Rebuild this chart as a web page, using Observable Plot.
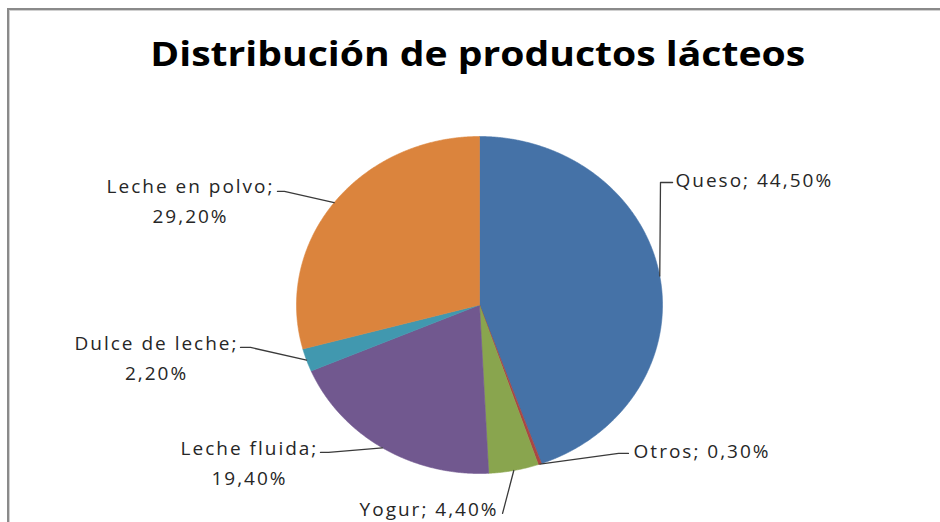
<!DOCTYPE html>
<html>
<head>
<meta charset="utf-8">
<script src="https://cdn.jsdelivr.net/npm/d3@7"></script>
<script src="https://cdn.jsdelivr.net/npm/@observablehq/plot@0.6"></script>
<style>
  html, body { margin: 0; padding: 0; background: #fff; overflow: hidden; width: 940px; height: 522px; }
  #frame { position: absolute; left: 7px; top: 8px; width: 1000px; height: 600px;
           border-top: 2px solid #8a8a8a; border-left: 2px solid #8a8a8a;
           box-shadow: inset 1px 1px 0 #d0d0d0; }
  #title { position: absolute; left: 0; top: 36px; width: 956px; text-align: center;
           font-family: "Open Sans", sans-serif; font-weight: 700; font-size: 34px; line-height: 34px; color: #000; }
  #title span { display: inline-block; transform: scaleX(1.15); transform-origin: center; }
  #chart { position: absolute; left: 0; top: 100px; }
</style>
</head>
<body>
<div id="frame"></div>
<div id="title"><span>Distribución de productos lácteos</span></div>
<div id="chart"></div>
<script>
// ---- data ----
const categories = ["Queso", "Otros", "Yogur", "Leche fluida", "Dulce de leche", "Leche en polvo"];
const values = [44.5, 0.3, 4.4, 19.4, 2.2, 29.2];
const colors = ["#4572A7", "#AA4643", "#89A54E", "#71588F", "#4198AF", "#DB843D"];

// ---- label layout (in pie-radius units; layout only) ----
const labelAnchor = ["start", "start", "end", "middle", "middle", "middle"];
const labelWrap = [false, false, false, true, true, true];
const labelPos = [[1.071, 0.757], [0.842, -0.852], [0.104, -1.198], [-1.257, -0.923], [-1.765, -0.300], [-1.579, 0.632]];
const leaderElbow = [[0.989, 0.727], [0.760, -0.881], null, [-0.825, -0.875], [-1.251, -0.252], [-1.066, 0.674]];
const leaderEnd = [[1.055, 0.727], [0.814, -0.881], [0.126, -1.237], [-0.869, -0.875], [-1.306, -0.252], [-1.104, 0.674]];

const data = categories.map((c, i) => ({cat: c, value: values[i]}));
const arcs = d3.pie().sort(null).value(d => d.value)(data);

// slice outlines on unit circle
const slicePts = [];
arcs.forEach(a => {
  const cat = a.data.cat;
  slicePts.push({cat, x: 0, y: 0});
  const n = Math.max(2, Math.ceil((a.endAngle - a.startAngle) / 0.005));
  for (let k = 0; k <= n; k++) {
    const t = a.startAngle + (a.endAngle - a.startAngle) * k / n;
    slicePts.push({cat, x: Math.sin(t), y: Math.cos(t)});
  }
  slicePts.push({cat, x: 0, y: 0});
});

const fmt = v => v.toFixed(2).replace(".", ",") + "%";
const labels = arcs.map((a, i) => {
  const sep = labelWrap[i] ? ";\n" : "; ";
  return {cat: a.data.cat, text: a.data.cat + sep + fmt(a.data.value), x: labelPos[i][0], y: labelPos[i][1], anchor: labelAnchor[i]};
});

const leaders = [];
arcs.forEach((a, i) => {
  const m = (a.startAngle + a.endAngle) / 2;
  leaders.push({cat: a.data.cat, x: Math.sin(m), y: Math.cos(m)});
  if (leaderElbow[i]) leaders.push({cat: a.data.cat, x: leaderElbow[i][0], y: leaderElbow[i][1]});
  leaders.push({cat: a.data.cat, x: leaderEnd[i][0], y: leaderEnd[i][1]});
});

const textOpts = {x: "x", y: "y", text: "text", fontSize: 19, lineHeight: 1.58, lineAnchor: "middle", fill: "#262626"};

const plot = Plot.plot({
  width: 940,
  height: 422,
  marginLeft: 296,
  marginRight: 278,
  marginTop: 36,
  marginBottom: 49,
  x: {domain: [-1, 1], axis: null},
  y: {domain: [-1, 1], axis: null},
  color: {domain: categories, range: colors},
  style: {fontFamily: "'Open Sans', sans-serif", letterSpacing: "2px", overflow: "visible", background: "transparent"},
  marks: [
    Plot.line(slicePts, {x: "x", y: "y", z: "cat", fill: "cat", stroke: "cat", strokeWidth: 0.6, curve: "linear"}),
    Plot.line(leaders, {x: "x", y: "y", z: "cat", stroke: "#3a3a3a", strokeWidth: 1.3, curve: "linear"}),
    Plot.text(labels.filter(d => d.anchor === "start"), {...textOpts, textAnchor: "start"}),
    Plot.text(labels.filter(d => d.anchor === "end"), {...textOpts, textAnchor: "end"}),
    Plot.text(labels.filter(d => d.anchor === "middle"), {...textOpts, textAnchor: "middle"})
  ]
});
document.getElementById("chart").appendChild(plot);
</script>
</body>
</html>
